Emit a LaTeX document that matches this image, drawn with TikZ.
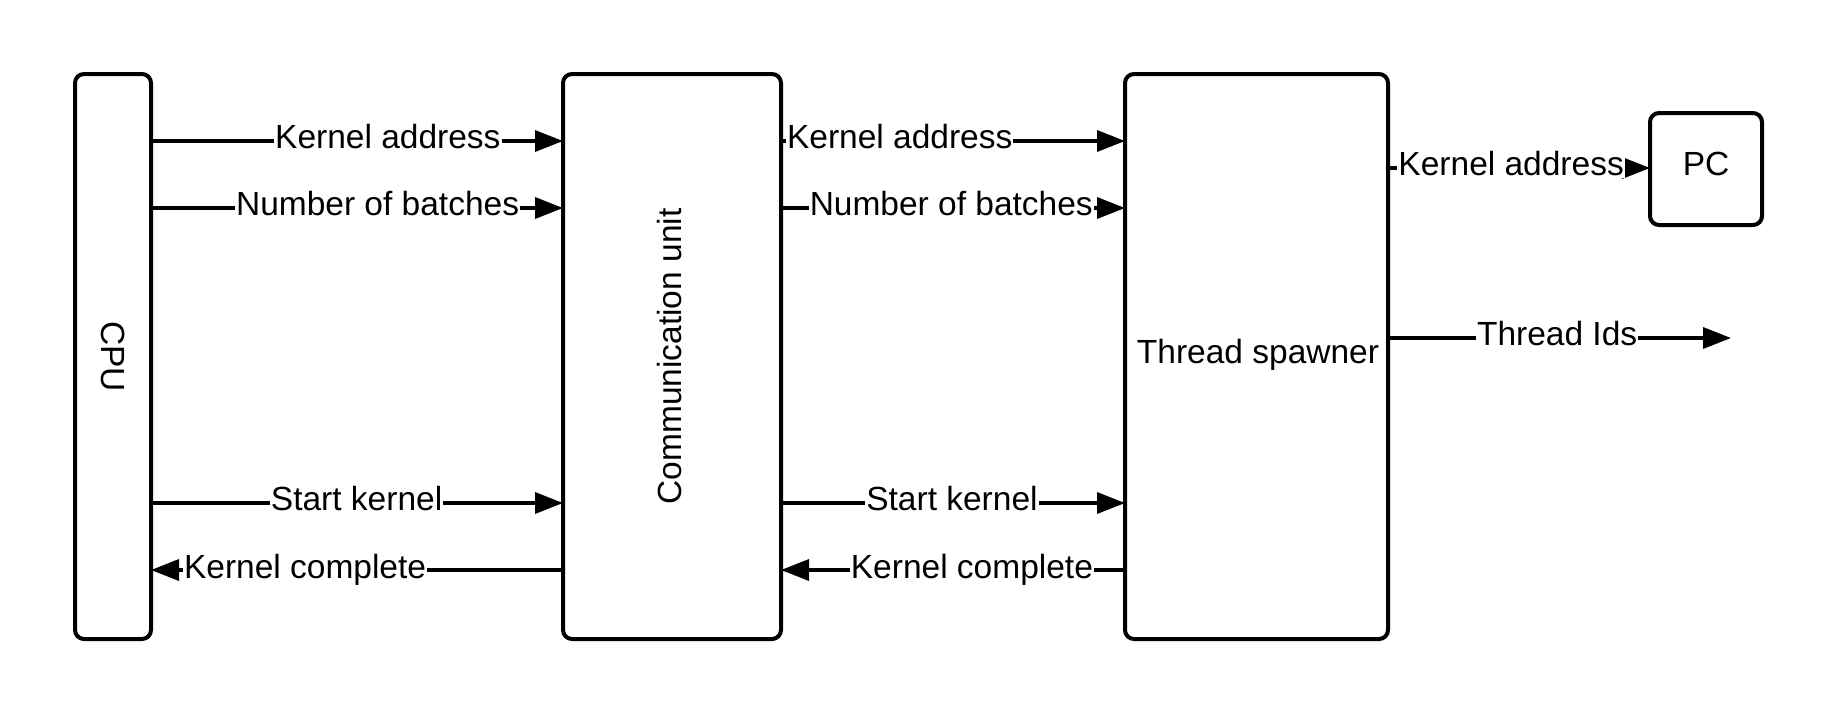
\documentclass[tikz,border=0pt]{standalone}
\usepackage{fontspec}
\setmainfont{Liberation Sans}
\usetikzlibrary{arrows.meta}
\begin{document}
\begin{tikzpicture}[x=1pt,y=-1pt,
  every node/.style={font=\fontsize{33.5}{40}\selectfont},
  blockbox/.style={draw=black,line width=4pt,rounded corners=9pt,fill=white,inner sep=0pt,outer sep=0pt},
  conn/.style={draw=black,line width=3.5pt,-{Triangle[length=28pt,width=21pt]}},
  lab/.style={fill=white,inner xsep=1pt,inner ysep=2pt,anchor=base,yshift=-7.5pt}]
\fill[white] (0,0) rectangle (1838,713);
\useasboundingbox (0,0) rectangle (1838,713);
\node[blockbox,minimum width=76pt,minimum height=565pt] (cpu) at (113,356.5) {};
\node[rotate=-90] (cputxt) at (113,356.5) {CPU};
\node[blockbox,minimum width=218pt,minimum height=565pt] (comm) at (672,356.5) {};
\node[rotate=90] (commtxt) at (670,356.5) {Communication unit};
\node[blockbox,minimum width=263pt,minimum height=565pt] (ts) at (1256.5,356.5) {};
\node (tstxt) at (1258,355) {Thread spawner};
\node[blockbox,minimum width=112pt,minimum height=112pt] (pc) at (1706,169) {};
\node (pctxt) at (1706,164) {PC};
\coordinate (tidend) at (1731,338);
% CPU <-> Communication unit
\draw[conn] (cpu.east |- 0,141) -- node[lab,pos=0.575] (l1) {Kernel address} (comm.west |- 0,141);
\draw[conn] (cpu.east |- 0,208) -- node[lab,pos=0.55] (l2) {Number of batches} (comm.west |- 0,208);
\draw[conn] (cpu.east |- 0,503) -- node[lab,pos=0.499] (l3) {Start kernel} (comm.west |- 0,503);
\draw[conn] (comm.west |- 0,570) -- node[lab,pos=0.626,yshift=-0.5pt] (l4) {Kernel complete} (cpu.east |- 0,570);
% Communication unit <-> Thread spawner
\draw[conn] (comm.east |- 0,141) -- node[lab,pos=0.345] (l5) {Kernel address} (ts.west |- 0,141);
\draw[conn] (comm.east |- 0,208) -- node[lab,pos=0.495] (l6) {Number of batches} (ts.west |- 0,208);
\draw[conn] (comm.east |- 0,503) -- node[lab,pos=0.497] (l7) {Start kernel} (ts.west |- 0,503);
\draw[conn] (ts.west |- 0,570) -- node[lab,pos=0.445,yshift=-0.5pt] (l8) {Kernel complete} (comm.east |- 0,570);
% Thread spawner outputs
\draw[conn] (ts.east |- 0,168) -- node[lab,pos=0.47] (l9) {Kernel address} (pc.west |- 0,168);
\draw[conn] (ts.east |- 0,338) -- node[lab,pos=0.493] (l10) {Thread Ids} (tidend);
\end{tikzpicture}
\end{document}
